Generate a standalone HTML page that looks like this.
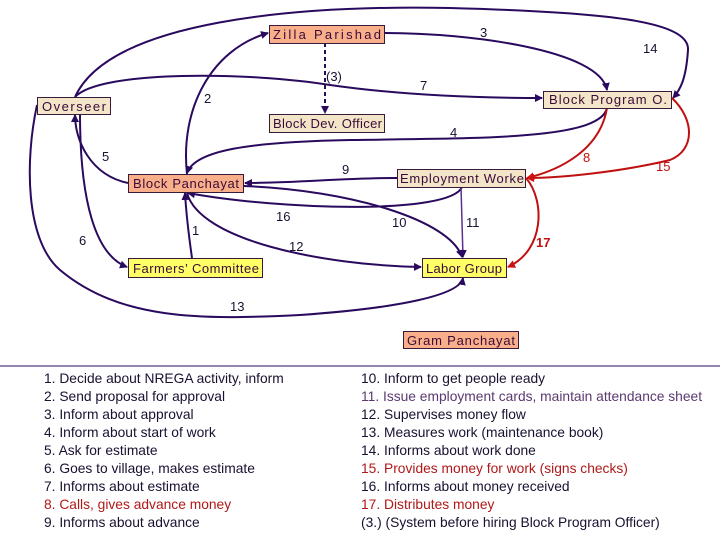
<!DOCTYPE html>
<html><head><meta charset="utf-8"><style>
body{margin:0;background:#fff;width:720px;height:540px;overflow:hidden;font-family:"Liberation Sans",sans-serif}
svg{position:absolute;left:0;top:0}
.l{position:absolute;font-size:13.8px;color:#1a1030;line-height:18px;white-space:nowrap}
</style></head><body>
<svg width="720" height="540" viewBox="0 0 720 540" font-family="Liberation Sans, sans-serif">
<defs>
<marker id="a" markerWidth="8" markerHeight="8" refX="7" refY="4" orient="auto" markerUnits="userSpaceOnUse"><path d="M0,0L8,4L0,8z" fill="#2a0a5e"/></marker>
<marker id="r" markerWidth="8" markerHeight="8" refX="7" refY="4" orient="auto" markerUnits="userSpaceOnUse"><path d="M0,0L8,4L0,8z" fill="#d01010"/></marker>
</defs>
<g fill="none" stroke="#2a0a5e" stroke-width="2">
<path d="M75,97 C110,20 300,5 450,8 C600,12 690,20 688,50 C686,80 680,90 673,98" marker-end="url(#a)"/>
<path d="M75,97 C100,70 250,72 330,85 C400,95 470,98 542,98" marker-end="url(#a)"/>
<path d="M187,174 C180,110 210,50 268,33" marker-end="url(#a)"/>
<path d="M385,33 C470,33 600,50 607,90" marker-end="url(#a)"/>
<path d="M607,108 C600,140 480,138 350,140 C250,142 195,150 187,173" marker-end="url(#a)"/>
<path d="M128,183 C90,175 75,140 75,115" marker-end="url(#a)"/>
<path d="M397,178 C340,178 300,183 245,183" marker-end="url(#a)"/>
<path d="M462,187 C450,215 280,210 188,193" marker-end="url(#a)"/>
<path d="M244,186 C350,190 450,220 462,257" marker-end="url(#a)"/>
<path d="M187,193 C200,240 320,265 421,267" marker-end="url(#a)"/>
<path d="M192,258 C188,230 186,210 185,193" marker-end="url(#a)"/>
<path d="M80,114 C80,200 95,255 127,267" marker-end="url(#a)"/>
<path d="M37,105 C25,160 25,240 60,270 C120,320 200,320 300,315 C400,308 460,295 463,278" marker-end="url(#a)"/>
<path d="M325,43 L325,113" stroke-dasharray="4,3" marker-end="url(#a)"/>
<path d="M461,187 L463,257" stroke="#5a3090" stroke-width="1.5" marker-end="url(#a)"/>
</g>
<g fill="none" stroke="#c01010" stroke-width="2">
<path d="M607,108 C600,150 560,170 527,178" marker-end="url(#r)"/>
<path d="M672,98 C695,120 695,150 670,160 C620,172 560,178 527,178" marker-end="url(#r)"/>
<path d="M526,178 C545,200 545,250 508,267" marker-end="url(#r)"/>
</g>
<g stroke="#3a1a3a" stroke-width="1">
<rect x="269.5" y="25.5" width="115" height="18" fill="#f9b08a"/>
<rect x="37.5" y="97.5" width="73" height="17" fill="#f3e5c8"/>
<rect x="269.5" y="114.5" width="115" height="18" fill="#f3e5c8"/>
<rect x="543.5" y="91.5" width="128" height="17" fill="#f3e5c8"/>
<rect x="128.5" y="174.5" width="115" height="18" fill="#f9b08a"/>
<rect x="397.5" y="169.5" width="128" height="18" fill="#f3e5c8"/>
<rect x="128.5" y="258.5" width="134" height="19" fill="#ffff66"/>
<rect x="422.5" y="258.5" width="84" height="19" fill="#ffff66"/>
<rect x="403.5" y="331.5" width="115" height="17" fill="#f9b08a"/>
</g>
<line x1="0" y1="366" x2="720" y2="366" stroke="#2a0a5e" stroke-width="1"/>
<g font-size="13" fill="#3a0a3a">
<text x="273" y="39" textLength="108">Zilla Parishad</text>
<text x="42" y="111" textLength="64">Overseer</text>
<text x="273" y="128" textLength="109">Block Dev. Officer</text>
<text x="549" y="104" textLength="118">Block Program O.</text>
<text x="133" y="188" textLength="106">Block Panchayat</text>
<text x="400" y="183" textLength="124">Employment Worke</text>
<text x="133" y="273" textLength="126">Farmers’ Committee</text>
<text x="426" y="273" textLength="76">Labor Group</text>
<text x="407" y="345" textLength="108">Gram Panchayat</text>
</g>
<g font-size="13" fill="#1a1030">
<text x="480" y="37">3</text>
<text x="643" y="53">14</text>
<text x="326" y="81">(3)</text>
<text x="420" y="90">7</text>
<text x="204" y="103">2</text>
<text x="450" y="137">4</text>
<text x="102" y="161">5</text>
<text x="342" y="174">9</text>
<text x="276" y="221">16</text>
<text x="192" y="235">1</text>
<text x="79" y="245">6</text>
<text x="289" y="251">12</text>
<text x="392" y="227">10</text>
<text x="466" y="227">11</text>
<text x="230" y="311">13</text>
</g>
<g fill="#c01010" font-size="13">
<text x="583" y="162">8</text>
<text x="656" y="171">15</text>
<text x="536" y="247" font-weight="bold">17</text>
</g>
</svg>
<div class="l" style="left:44px;top:370px">1. Decide about NREGA activity, inform<br>2. Send proposal for approval<br>3. Inform about approval<br>4. Inform about start of work<br>5. Ask for estimate<br>6. Goes to village, makes estimate<br>7. Informs about estimate<br><span style="color:#b01818">8. Calls, gives advance money</span><br>9. Informs about advance</div>
<div class="l" style="left:361px;top:370px">10. Inform to get people ready<br><span style="color:#5a3a70">11. Issue employment cards, maintain attendance sheet</span><br>12. Supervises money flow<br>13. Measures work (maintenance book)<br>14. Informs about work done<br><span style="color:#b01818">15. Provides money for work (signs checks)</span><br>16. Informs about money received<br><span style="color:#b01818">17. Distributes money</span><br>(3.) (System before hiring Block Program Officer)</div>
</body></html>
